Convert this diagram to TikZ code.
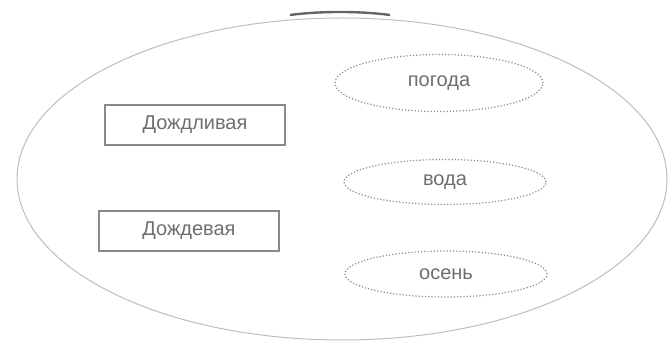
\documentclass[tikz,border=0pt]{standalone}
\usepackage{fontspec}
\setmainfont{Liberation Sans}
\usepackage{tikz}
\usepackage{xcolor}
\usetikzlibrary{shapes.geometric}
\definecolor{framecolor}{HTML}{8A8A8A}
\definecolor{fieldcolor}{HTML}{BDBDBD}
\definecolor{wordcolor}{HTML}{6E6E6E}
\tikzstyle{field} = [
    draw=fieldcolor,
    ellipse,
    line width=0.5pt,
    minimum width=325pt,
    minimum height=161pt
    ]
\tikzstyle{wordbox} = [
    draw=framecolor,
    rectangle,
    line width=0.6pt,
    text=wordcolor,
    font=\fontsize{10}{12}\selectfont,
    minimum width=90pt,
    minimum height=20pt
    ]
\tikzstyle{wordoval} = [
    draw=framecolor,
    ellipse,
    densely dotted,
    line width=0.6pt,
    text=wordcolor,
    font=\fontsize{10}{12}\selectfont,
    inner sep=0pt
    ]
\begin{document}
\begin{tikzpicture}[x=0.5pt, y=-0.5pt]
\useasboundingbox (0,0) rectangle (669,341);
\node [field] (field) at (342,179) {};
% top edge of the figure above
\draw [black!60, line width=1.2pt] (290,15) .. controls (320,11) and (360,11) .. (390,15);
\node [wordbox] (rainy) at (195,125) {Дождливая};
\node [wordbox] (rainwater) at (189,231) {Дождевая};
\node [wordoval, minimum width=104pt, minimum height=28.5pt] (weather) at (439,83) {погода};
\node [wordoval, minimum width=101pt, minimum height=22.5pt] (water) at (445,182) {вода};
\node [wordoval, minimum width=101pt, minimum height=23pt] (autumn) at (446,274) {осень};
\end{tikzpicture}
\end{document}
